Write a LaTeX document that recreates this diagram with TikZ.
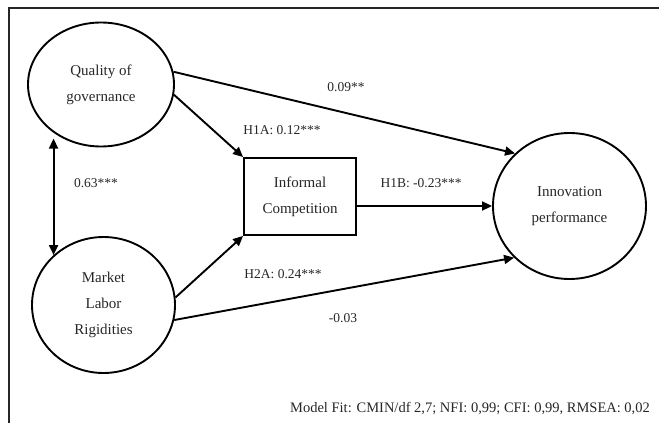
\documentclass[tikz,border=0pt]{standalone}
\usepackage{fontspec}
\setmainfont{Liberation Serif}
\usepackage{tikz}
\usetikzlibrary{arrows.meta, positioning, calc, shapes.geometric}

\begin{document}
\begin{tikzpicture}[x=1pt, y=-1pt,
    every node/.style={font=\fontsize{15}{26}\selectfont, text=black!85},
    latentvar/.style={draw=black, ellipse, line width=1.9pt, inner sep=0pt, align=center},
    obsbox/.style={draw=black, rectangle, line width=1.9pt, inner sep=0pt, align=center},
    patharrow/.style={line width=1.9pt, -{Triangle[length=10pt, width=9pt]}},
    corrarrow/.style={line width=1.9pt, {Triangle[length=10pt, width=9pt]}-{Triangle[length=10pt, width=9pt]}},
    coefflabel/.style={font=\fontsize{13.5}{16}\selectfont}]
    \useasboundingbox (0,0) rectangle (659,423);
    % frame
    \draw[line width=1.3pt, black!85] (659,8) -- (9,8) -- (9,423);

    % constructs
    \node[latentvar, minimum width=146pt, minimum height=124pt] (qual) at (101,84.5) {Quality of\\governance};
    \node[latentvar, minimum width=143pt, minimum height=136pt] (mkt) at (103.5,305) {Market\\Labor\\Rigidities};
    \node[latentvar, minimum width=153pt, minimum height=146pt] (inno) at (569.5,206) {Innovation\\performance};
    \node[obsbox, minimum width=112pt, minimum height=77pt] (infc) at (300,196.5) {Informal\\Competition};

    % paths
    \draw[patharrow] (qual.10) -- (inno.136);
    \draw[patharrow] (qual.-8) -- (infc.north west);
    \draw[patharrow] (mkt.6) -- (infc.south west);
    \draw[patharrow] (mkt.-12) -- (inno.-137);
    \draw[patharrow] (infc.east |- inno.west) -- (inno.west);
    \draw[corrarrow] (mkt.135) -- (mkt.135 |- qual.-125);

    % coefficients
    \node[coefflabel] (c09) at (346,87) {0.09**};
    \node[coefflabel] (h1a) at (282,130) {H1A: 0.12***};
    \node[coefflabel] (c63) at (96,183) {0.63***};
    \node[coefflabel] (h1b) at (421,183) {H1B: -0.23***};
    \node[coefflabel] (h2a) at (283,274) {H2A: 0.24***};
    \node[coefflabel] (c03) at (343,318) {-0.03};
    \node[font=\fontsize{14.5}{17}\selectfont] (fit) at (470,409) {Model Fit: CMIN/df 2,7; NFI: 0,99; CFI: 0,99, RMSEA: 0,02};
\end{tikzpicture}
\end{document}
